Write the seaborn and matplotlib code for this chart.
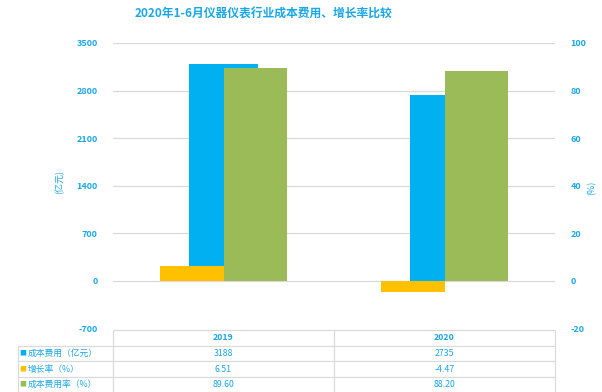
import matplotlib
matplotlib.use('Agg')
import matplotlib.pyplot as plt
import seaborn as sns
import pandas as pd

# data
years = ['2019', '2020']
cost = [3188, 2735]              # 成本费用 (亿元)
growth = [6.51, -4.47]           # 增长率 (%)
cost_rate = [89.60, 88.20]       # 成本费用率 (%)
row_labels = ['成本费用（亿元）', '增长率（%）', '成本费用率（%）']
left_ticks = [-700, 0, 700, 1400, 2100, 2800, 3500]
right_ticks = [-20, 0, 20, 40, 60, 80, 100]

BLUE = '#00B0F0'
YELLOW = '#FFC000'
GREEN = '#9BBB59'
TXT = '#1AA7E8'
GRID = '#D9D9D9'

sns.set_style('white')
plt.rcParams['font.family'] = ['Noto Sans CJK SC', 'DejaVu Sans']
plt.rcParams['axes.unicode_minus'] = False

W, H = 602, 392
fig = plt.figure(figsize=(W / 100, H / 100), dpi=100)
fig.patch.set_facecolor('white')

# axes box in pixels: x 113..555, y 43..328.6
ax = fig.add_axes([113 / W, 1 - 328.6 / H, 442 / W, 285.6 / H])
ax2 = ax.twinx()

df_cost = pd.DataFrame({'year': years, 'value': cost})
df_rate = pd.DataFrame({
    'year': years * 2,
    'metric': ['增长率'] * 2 + ['成本费用率'] * 2,
    'value': growth + cost_rate,
})

sns.barplot(data=df_cost, x='year', y='value', color=BLUE, width=0.31,
            errorbar=None, saturation=1, linewidth=0, ax=ax)
sns.barplot(data=df_rate, x='year', y='value', hue='metric',
            palette=[YELLOW, GREEN], width=0.575, errorbar=None,
            saturation=1, linewidth=0, legend=False, ax=ax2)

for a, lim, ticks in [(ax, (-700, 3500), left_ticks), (ax2, (-20, 100), right_ticks)]:
    a.set_ylim(*lim)
    a.set_yticks(ticks)
    a.set_xlim(-0.5, 1.5)
    a.set_xlabel('')
    a.set_ylabel('')
    a.set_xticks([])
    for s in a.spines.values():
        s.set_visible(False)
    a.tick_params(axis='y', length=0, labelsize=6.5, labelcolor=TXT, pad=11)

for lab in ax.get_yticklabels() + ax2.get_yticklabels():
    lab.set_fontweight('bold')

# gridlines (skip the bottom one, the table sits there)
for t in left_ticks[1:]:
    ax.axhline(t, color=GRID, lw=0.9, zorder=0)
ax.set_axisbelow(True)

fig.text(60 / W, 1 - 182 / H, '(亿元)', rotation=90, color=TXT, fontsize=6.5,
         ha='center', va='center')
fig.text(592 / W, 1 - 188 / H, '(%)', rotation=90, color=TXT, fontsize=6.5,
         ha='center', va='center')

fig.text(263.5 / W, 1 - 14 / H, '2020年1-6月仪器仪表行业成本费用、增长率比较',
         color=TXT, fontsize=8.5, fontweight='bold', ha='center', va='center')

# data table under the chart: first column holds the row labels
cell_text = [[''] + years,
             [row_labels[0]] + [str(v) for v in cost],
             [row_labels[1]] + [f'{v:.2f}' for v in growth],
             [row_labels[2]] + [f'{v:.2f}' for v in cost_rate]]
ax_w, ax_h = 442, 285.6
x0 = (18 - 113) / ax_w
bw = (555 - 18) / ax_w
y_top = (328.6 - 330) / ax_h
y_bot = (328.6 - 392.5) / ax_h
tbl = ax.table(cellText=cell_text, cellLoc='center',
               colWidths=[95 / 537, 221 / 537, 221 / 537],
               bbox=[x0, y_bot, bw, y_top - y_bot])
tbl.auto_set_font_size(False)
tbl.set_fontsize(6.3)
for (r, c), cell in tbl.get_celld().items():
    cell.set_edgecolor(GRID)
    cell.set_linewidth(0.8)
    cell.get_text().set_color(TXT)
    if r == 0 and c == 0:
        cell.visible_edges = 'B'
    if c == 0:
        cell.get_text().set_horizontalalignment('left')
        cell._loc = 'left'
    if r == 0:
        cell.get_text().set_fontweight('bold')

# colored markers in front of the row labels
row_h = (y_top - y_bot) / 4
for i, col in enumerate([BLUE, YELLOW, GREEN]):
    yc = y_top - row_h * (i + 1.5)
    ax.text((23 - 113) / ax_w, yc, '■', color=col, fontsize=5,
            ha='center', va='center', transform=ax.transAxes, clip_on=False)

fig.savefig('out.png', dpi=100)
